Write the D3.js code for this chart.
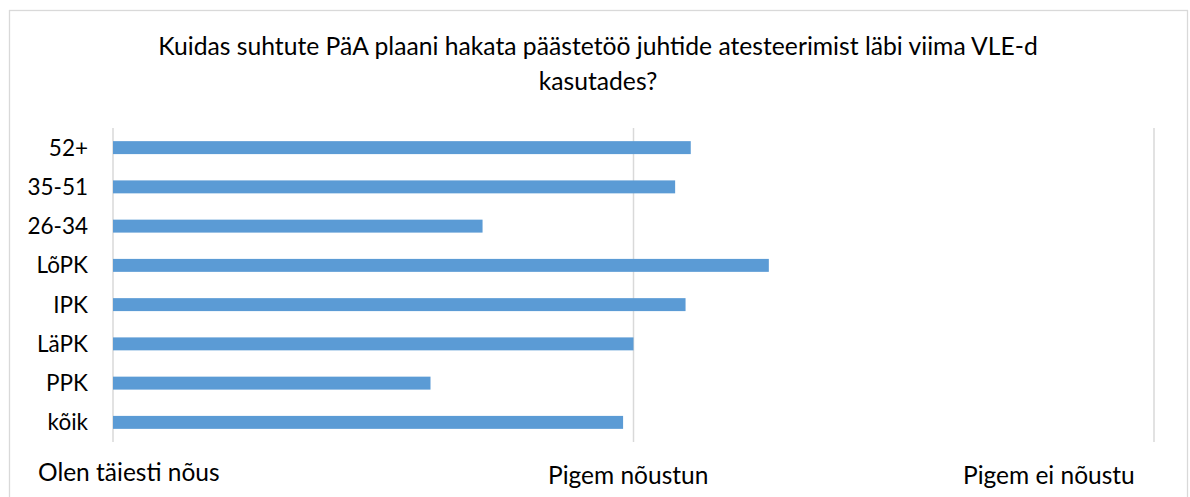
<!DOCTYPE html>
<html>
<head>
<meta charset="utf-8">
<script src="https://cdn.jsdelivr.net/npm/d3@7"></script>
<style>
  body { margin: 0; background: #fff; }
  text { font-family: Lato, "Noto Sans", sans-serif; fill: #000; }
</style>
</head>
<body>
<svg id="chart" width="1190" height="497"></svg>
<script>
// categories top to bottom
const categories = ['52+', '35-51', '26-34', 'LõPK', 'IPK', 'LäPK', 'PPK', 'kõik'];
// average answer, 1 = Olen täiesti nõus, 2 = Pigem nõustun, 3 = Pigem ei nõustu
const values = [2.11, 2.08, 1.71, 2.26, 2.10, 2.00, 1.61, 1.98];
const scaleTicks = [1, 2, 3];
const scaleLabels = ['Olen täiesti nõus', 'Pigem nõustun', 'Pigem ei nõustu'];
const titleLines = ['Kuidas suhtute PäA plaani hakata päästetöö juhtide atesteerimist läbi viima VLE-d', 'kasutades?'];

const svg = d3.select('#chart');

// outer frame
svg.append('rect')
  .attr('x', 9.5).attr('y', 10.5)
  .attr('width', 1178).attr('height', 500)
  .attr('fill', '#fff')
  .attr('stroke', '#d9d9d9')
  .attr('stroke-width', 1.3);

const x = d3.scaleLinear().domain([1, 3]).range([113, 1154]);
const y = d3.scaleBand().domain(categories).range([128, 442]).paddingInner(0.67).paddingOuter(0.335);

// gridlines
svg.append('g')
  .selectAll('line')
  .data(scaleTicks)
  .join('line')
  .attr('x1', d => x(d)).attr('x2', d => x(d))
  .attr('y1', 128).attr('y2', 442)
  .attr('stroke', '#d9d9d9')
  .attr('stroke-width', 1.5);

// bars
svg.append('g')
  .selectAll('rect')
  .data(values)
  .join('rect')
  .attr('x', x(1))
  .attr('y', (d, i) => y(categories[i]))
  .attr('width', d => x(d) - x(1))
  .attr('height', y.bandwidth())
  .attr('fill', '#5b9bd5');

// category labels
svg.append('g')
  .selectAll('text')
  .data(categories)
  .join('text')
  .attr('x', 88)
  .attr('y', d => y(d) + y.bandwidth() / 2)
  .attr('dy', '0.36em')
  .attr('text-anchor', 'end')
  .style('font-size', '22.5px')
  .text(d => d);

// title
svg.append('g')
  .selectAll('text')
  .data(titleLines)
  .join('text')
  .attr('x', 598)
  .attr('y', (d, i) => 55 + i * 35)
  .attr('text-anchor', 'middle')
  .style('font-size', '24.7px')
  .text(d => d);

// scale labels under the plot (placed like the free text boxes of the original)
const labelX = [38, 548, 963];
svg.append('g')
  .selectAll('text')
  .data(scaleLabels)
  .join('text')
  .attr('x', (d, i) => labelX[i])
  .attr('y', (d, i) => i === 0 ? 481 : 484)
  .style('font-size', '24.5px')
  .text(d => d);
</script>
</body>
</html>
